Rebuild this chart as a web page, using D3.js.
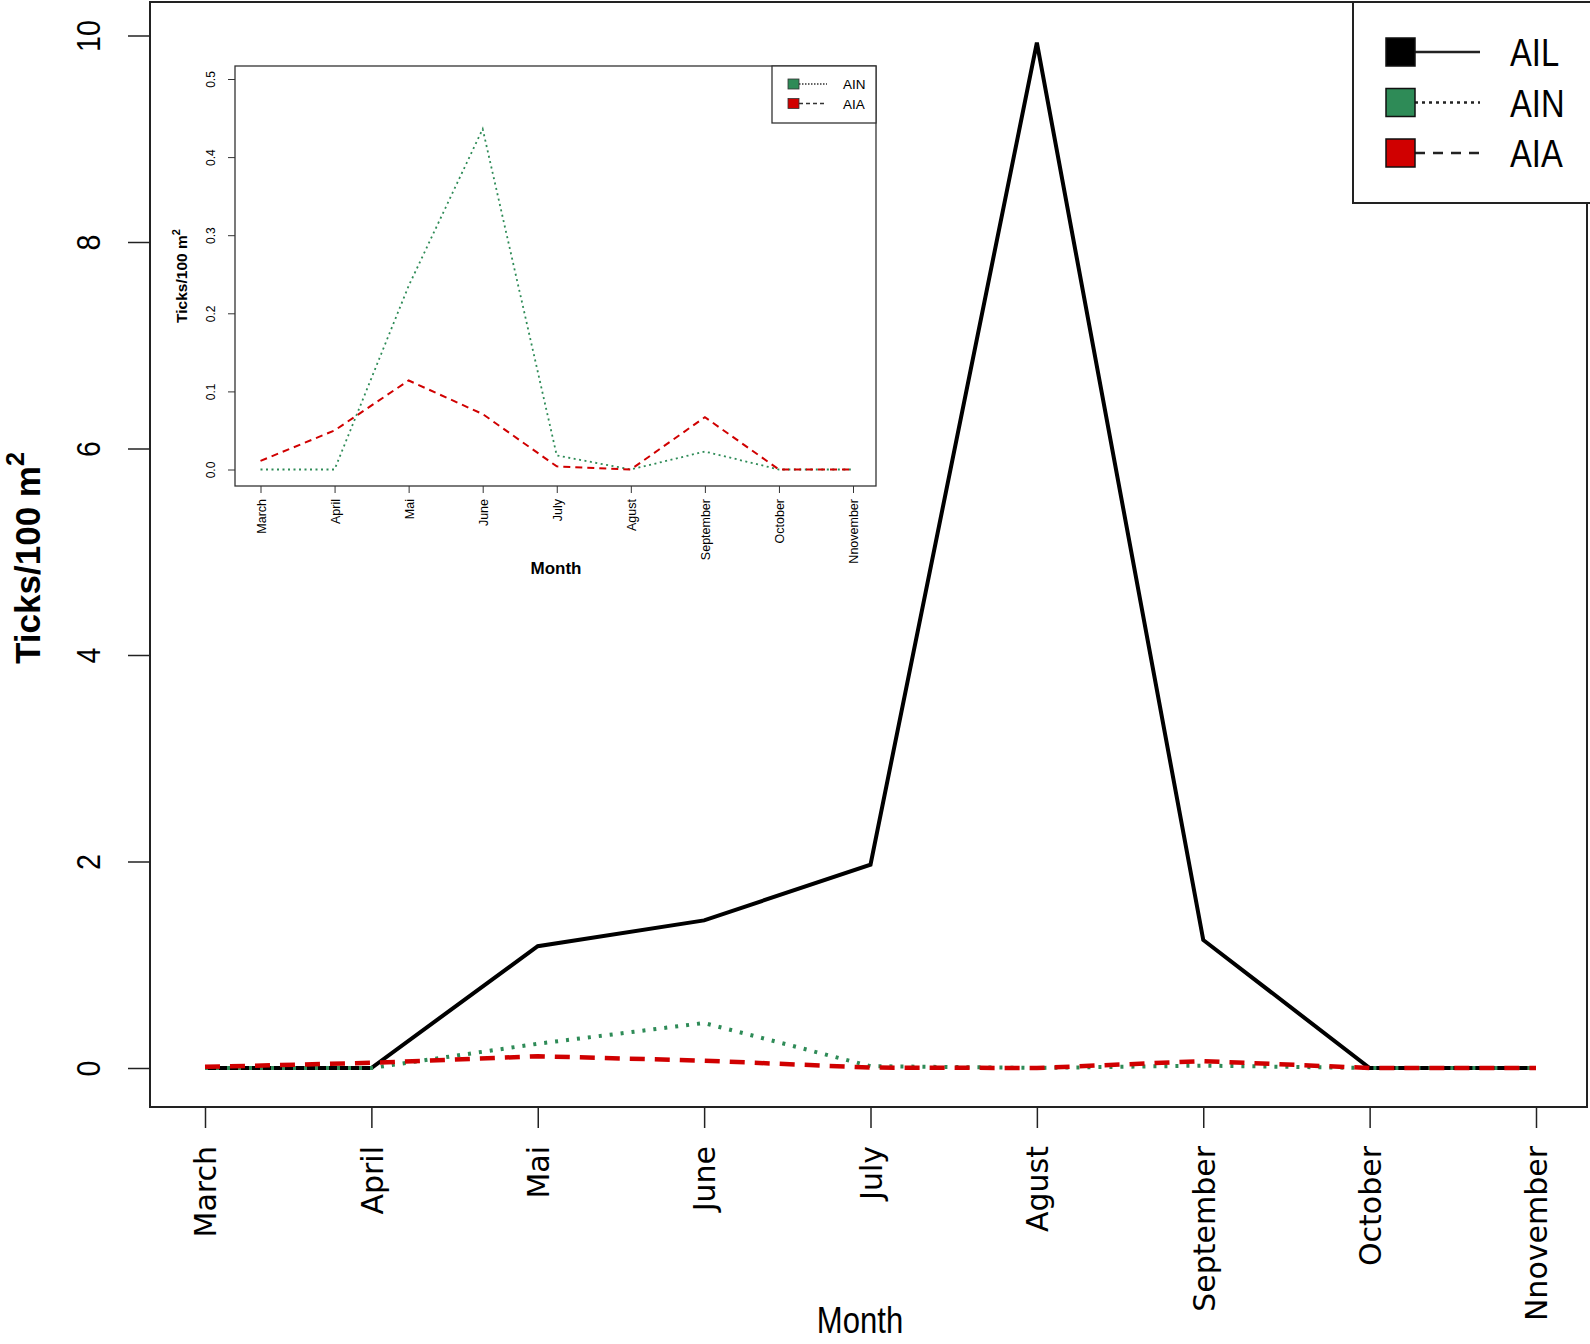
<!DOCTYPE html>
<html>
<head>
<meta charset="utf-8">
<script src="https://cdn.jsdelivr.net/npm/d3@7"></script>
<style>
  body { margin: 0; background: #fff; }
  svg { display: block; }
  .narrow { font-family: "Liberation Sans", Arial, sans-serif; }
</style>
</head>
<body>
<script>
// monthly tick densities (Ticks/100 m2)
var months = ['March', 'April', 'Mai', 'June', 'July', 'Agust', 'September', 'October', 'Nnovember'];
var ail = [0, 0, 1.18, 1.43, 1.97, 9.93, 1.24, 0, 0];
var ain = [0, 0, 0.235, 0.436, 0.018, 0, 0.023, 0, 0];
var aia = [0.011, 0.05, 0.114, 0.071, 0.004, 0, 0.067, 0, 0];
var mainTicks = [0, 2, 4, 6, 8, 10];
var insetTicks = [0, 0.1, 0.2, 0.3, 0.4, 0.5];

var green = '#2e8b57', red = '#d00000';
var squeeze = 0.84; // no narrow font installed, so squash regular sans

var W = 1590, H = 1344;
var svg = d3.select('body').append('svg').attr('width', W).attr('height', H);

// ---- main plot ----
var x = d3.scalePoint().domain(months).range([205, 1536]);
var y = d3.scaleLinear().domain([0, 10]).range([1068, 35.5]);

var line = d3.line().x((d, i) => x(months[i])).y(d => y(d));

svg.append('rect')
	.attr('x', 150).attr('y', 2).attr('width', 1437).attr('height', 1105)
	.attr('fill', 'none').attr('stroke', '#222').attr('stroke-width', 2);

var series = [
	{ name: 'AIL', vals: ail, color: '#000', width: 4, dash: null },
	{ name: 'AIN', vals: ain, color: green, width: 4, dash: '3,8' },
	{ name: 'AIA', vals: aia, color: red, width: 4.5, dash: '15,10' }
];

svg.selectAll('path.main')
	.data(series)
	.enter()
	.append('path')
	.attr('class', 'main')
	.attr('d', d => line(d.vals))
	.attr('fill', 'none')
	.attr('stroke', d => d.color)
	.attr('stroke-width', d => d.width)
	.attr('stroke-dasharray', d => d.dash);

// y axis
var gy = svg.append('g').attr('transform', 'translate(150,0)')
	.call(d3.axisLeft(y).tickValues(mainTicks).tickSize(22).tickFormat(d3.format('d')));
gy.select('.domain').remove();
gy.selectAll('line').attr('stroke', '#222').attr('stroke-width', 1.5);
gy.selectAll('text')
	.attr('class', 'narrow')
	.attr('x', 0).attr('dy', null)
	.attr('transform', 'translate(-50,0) rotate(-90) scale(' + squeeze + ',1)')
	.attr('text-anchor', 'middle')
	.attr('font-size', 34).attr('fill', '#000');

// x axis
var gx = svg.append('g').attr('transform', 'translate(0,1107)')
	.call(d3.axisBottom(x).tickSize(21));
gx.select('.domain').remove();
gx.selectAll('line').attr('stroke', '#222').attr('stroke-width', 1.5);
gx.selectAll('text')
	.attr('x', -39).attr('y', 0).attr('dy', '0.36em')
	.attr('transform', 'rotate(-90)')
	.attr('text-anchor', 'end')
	.attr('font-family', '"DejaVu Sans", sans-serif')
	.attr('font-size', 30).attr('fill', '#000');

svg.append('text')
	.attr('class', 'narrow')
	.attr('transform', 'translate(860,1333) scale(' + squeeze + ',1)')
	.attr('text-anchor', 'middle')
	.attr('font-size', 37)
	.text('Month');

var yt = svg.append('text')
	.attr('transform', 'translate(40,558) rotate(-90)')
	.attr('text-anchor', 'middle')
	.attr('font-family', '"Liberation Sans", Arial, sans-serif')
	.attr('font-weight', 'bold')
	.attr('font-size', 35);
yt.append('tspan').text('Ticks/100 m');
yt.append('tspan').attr('dy', -16).attr('font-size', 25).text('2');

// main legend
var leg = svg.append('g');
leg.append('rect')
	.attr('x', 1353).attr('y', 2).attr('width', 240).attr('height', 201)
	.attr('fill', '#fff').attr('stroke', '#222').attr('stroke-width', 2);
var legRows = leg.selectAll('g.row')
	.data(series)
	.enter()
	.append('g')
	.attr('transform', (d, i) => 'translate(0,' + (52 + i * 50.5) + ')');
legRows.append('line')
	.attr('x1', 1415).attr('x2', 1480)
	.attr('stroke', '#222')
	.attr('stroke-width', 2.5)
	.attr('stroke-dasharray', (d, i) => i === 0 ? null : (i === 1 ? '3,4' : '10,8'));
legRows.append('rect')
	.attr('x', 1386).attr('y', -14).attr('width', 29).attr('height', 28)
	.attr('fill', d => d.color).attr('stroke', '#111').attr('stroke-width', 1.5);
legRows.append('text')
	.attr('class', 'narrow')
	.attr('transform', 'translate(1510,14) scale(' + squeeze + ',1)')
	.attr('font-size', 39)
	.text(d => d.name);

// ---- inset plot ----
var ix = d3.scalePoint().domain(months).range([260.5, 853]);
var iy = d3.scaleLinear().domain([0, 0.5]).range([469.5, 79]);
var iline = d3.line().x((d, i) => ix(months[i])).y(d => iy(d));

var inset = svg.append('g');
inset.append('rect')
	.attr('x', 235).attr('y', 66).attr('width', 641).attr('height', 420)
	.attr('fill', '#fff').attr('stroke', '#333').attr('stroke-width', 1.3);

var insetSeries = [
	{ name: 'AIN', vals: ain, color: green, dash: '2,3.5', width: 1.8 },
	{ name: 'AIA', vals: aia, color: red, dash: '7,5', width: 2 }
];
inset.selectAll('path.inset')
	.data(insetSeries)
	.enter()
	.append('path')
	.attr('class', 'inset')
	.attr('d', d => iline(d.vals))
	.attr('fill', 'none')
	.attr('stroke', d => d.color)
	.attr('stroke-width', d => d.width)
	.attr('stroke-dasharray', d => d.dash);

var igy = inset.append('g').attr('transform', 'translate(235,0)')
	.call(d3.axisLeft(iy).tickValues(insetTicks).tickSize(7).tickFormat(d3.format('.1f')));
igy.select('.domain').remove();
igy.selectAll('line').attr('stroke', '#333');
igy.selectAll('text')
	.attr('x', 0).attr('dy', null)
	.attr('transform', 'translate(-20,0) rotate(-90)')
	.attr('text-anchor', 'middle')
	.attr('font-family', '"Liberation Sans", Arial, sans-serif')
	.attr('font-size', 12).attr('fill', '#000');

var igx = inset.append('g').attr('transform', 'translate(0,486)')
	.call(d3.axisBottom(ix).tickSize(7));
igx.select('.domain').remove();
igx.selectAll('line').attr('stroke', '#333');
igx.selectAll('text')
	.attr('x', -13).attr('y', 0).attr('dy', '0.36em')
	.attr('transform', 'rotate(-90)')
	.attr('text-anchor', 'end')
	.attr('font-family', '"Liberation Sans", Arial, sans-serif')
	.attr('font-size', 12.5).attr('fill', '#000');

inset.append('text')
	.attr('x', 556).attr('y', 574)
	.attr('text-anchor', 'middle')
	.attr('font-family', '"Liberation Sans", Arial, sans-serif')
	.attr('font-weight', 'bold')
	.attr('font-size', 17)
	.text('Month');

var iyt = inset.append('text')
	.attr('transform', 'translate(187,276) rotate(-90)')
	.attr('text-anchor', 'middle')
	.attr('font-family', '"Liberation Sans", Arial, sans-serif')
	.attr('font-weight', 'bold')
	.attr('font-size', 15.5);
iyt.append('tspan').text('Ticks/100 m');
iyt.append('tspan').attr('dy', -7).attr('font-size', 11).text('2');

// inset legend
inset.append('rect')
	.attr('x', 772).attr('y', 66).attr('width', 104).attr('height', 57)
	.attr('fill', '#fff').attr('stroke', '#333').attr('stroke-width', 1.3);
var iRows = inset.selectAll('g.irow')
	.data(insetSeries)
	.enter()
	.append('g')
	.attr('transform', (d, i) => 'translate(0,' + (84 + i * 19.5) + ')');
iRows.append('line')
	.attr('x1', 799).attr('x2', 827)
	.attr('stroke', '#333').attr('stroke-width', 1.3)
	.attr('stroke-dasharray', (d, i) => i === 0 ? '1.5,1.5' : '4,3');
iRows.append('rect')
	.attr('x', 788).attr('y', -5).attr('width', 11).attr('height', 10)
	.attr('fill', d => d.color).attr('stroke', '#333').attr('stroke-width', 0.8);
iRows.append('text')
	.attr('x', 843).attr('y', 5)
	.attr('font-family', '"Liberation Sans", Arial, sans-serif')
	.attr('font-size', 13.5)
	.text(d => d.name);
</script>
</body>
</html>
